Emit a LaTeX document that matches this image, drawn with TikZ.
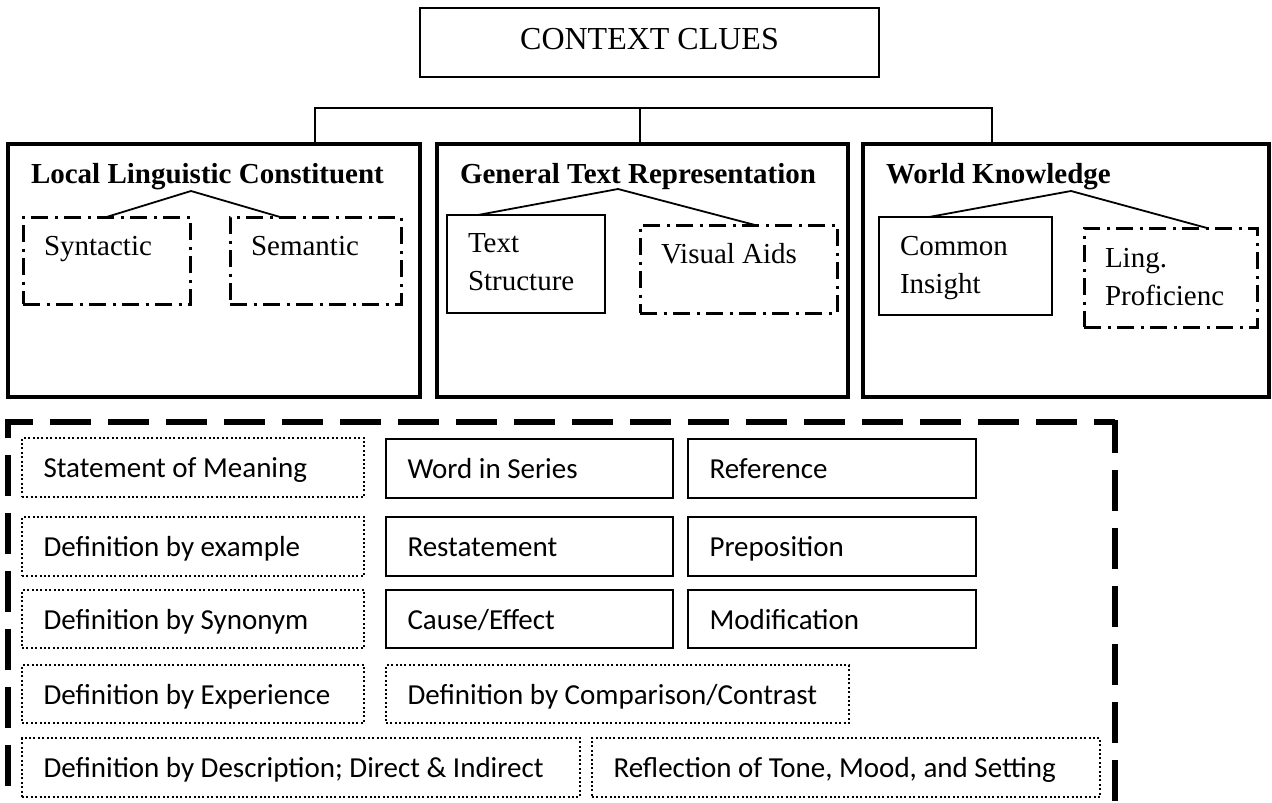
\documentclass[tikz,border=0pt]{standalone}
\usepackage{fontspec}
\setmainfont{Liberation Serif}
\newfontfamily\calibri{Carlito}
\usetikzlibrary{calc}

\tikzset{
	thinline/.style={line width=1.8pt},
	mainbox/.style={draw, line width=3.2pt, anchor=north west, outer sep=0pt, align=flush left, inner xsep=23pt, inner ysep=0pt, text height=39pt, text depth=214pt, font=\fontsize{29}{38}\selectfont\bfseries},
	subbox/.style={draw, anchor=north west, outer sep=0pt, align=flush left, inner xsep=21pt, inner ysep=0pt, text height=38pt, font=\fontsize{29}{38.5}\selectfont},
	dashdot/.style={line width=3pt, dash pattern=on 17pt off 6.5pt on 3pt off 6.5pt},
	clue/.style={draw, anchor=north west, outer sep=0pt, align=flush left, inner xsep=21.5pt, inner ysep=0pt, minimum height=59pt, text height=24pt, text depth=4pt, font=\calibri\fontsize{29}{35}\selectfont, execute at begin node=\hbox\bgroup, execute at end node=\egroup},
	dotbox/.style={line width=2pt, dash pattern=on 2pt off 2.4pt},
	bigdash/.style={line width=5.5pt, dash pattern=on 41pt off 17pt}
}

\begin{document}
\begin{tikzpicture}[x=1pt, y=-1pt]
		\useasboundingbox (0,0) rectangle (1272,803);

		% top of the tree
		\node (root)[draw, thinline, anchor=north west, outer sep=0pt, minimum width=459pt, minimum height=69pt, text depth=7pt, font=\fontsize{32}{36}\selectfont] at (420,8) {CONTEXT CLUES};

		\node (loc)[mainbox, text width=366pt] at (8,144) {Local Linguistic Constituent};
		\node (gen)[mainbox, text width=365pt] at (437,144) {General Text Representation};
		\node (wor)[mainbox, text width=360pt] at (863,144) {World Knowledge};

		\coordinate (bar) at (640,108);
		\draw [thinline]($(loc.north west)+(307,0)$) |- (bar) -| ($(wor.north west)+(129,0)$);
		\draw [thinline](bar) -- (bar |- gen.north);

		% sub boxes
		\node (syn)[subbox, dashdot, text width=125pt, text depth=49pt] at (23,217) {Syntactic};
		\node (sem)[subbox, dashdot, text width=129pt, text depth=49pt] at (230,217) {Semantic};
		\node (ts)[subbox, thinline, text width=116pt, text height=37pt, text depth=61pt] at (447,215) {Text\\Structure};
		\node (va)[subbox, dashdot, text width=155pt, text depth=50pt] at (640,225) {Visual Aids};
		\node (ci)[subbox, thinline, text width=131pt, text depth=60pt] at (879,217) {Common\\Insight};
		\node (lp)[subbox, dashdot, text width=131pt, text height=39pt, text depth=60pt] at (1084,228) {Ling.\\Proficienc};

		\coordinate (lap) at (191,191);
		\coordinate (gap) at (618,189);
		\coordinate (wap) at (1071,191);
		\draw [thinline](syn.north) -- (lap) -- ($(sem.north west)+(50,0)$);
		\draw [thinline]($(ts.north west)+(31,0)$) -- (gap) -- ($(va.north west)+(115,0)$);
		\draw [thinline]($(ci.north west)+(50,0)$) -- (wap) -- ($(lp.north west)+(123,0)$);

		% kinds of clues
		\coordinate (fbl) at (8,803);
		\coordinate (ftl) at (8,422);
		\coordinate (ftr) at (1115,422);
		\coordinate (fbr) at (1115,803);
		\draw [bigdash, dash phase=41pt](fbl) -- (ftl) -- (ftr);
		\draw [bigdash, dash phase=7.5pt]($(ftr)+(0,-2.5)$) -- (fbr);

		\node (sm)[clue, dotbox, text width=299pt] at (22,438) {Statement of Meaning};
		\node (ws)[clue, thinline, text width=244pt] at (386,439) {Word in Series};
		\node (rf)[clue, thinline, text width=245pt] at (688,439) {Reference};

		\node (de)[clue, dotbox, text width=299pt] at (22,517) {Definition by example};
		\node (rs)[clue, thinline, text width=244pt] at (386,517) {Restatement};
		\node (pp)[clue, thinline, text width=245pt] at (688,517) {Preposition};

		\node (dsy)[clue, dotbox, text width=299pt, minimum height=58pt] at (22,590) {Definition by Synonym};
		\node (ce)[clue, thinline, text width=244pt, minimum height=58pt] at (386,590) {Cause/Effect};
		\node (md)[clue, thinline, text width=245pt, minimum height=58pt] at (688,590) {Modification};

		\node (dex)[clue, dotbox, text width=299pt, minimum height=58pt] at (22,665) {Definition by Experience};
		\node (dco)[clue, dotbox, text width=420pt, minimum height=58pt] at (386,665) {Definition by Comparison/Contrast};

		\node (dds)[clue, dotbox, text width=515pt] at (22,738) {Definition by Description; Direct \& Indirect};
		\node (tms)[clue, dotbox, text width=465pt] at (592,738) {Reflection of Tone, Mood, and Setting};
	\end{tikzpicture}
\end{document}
